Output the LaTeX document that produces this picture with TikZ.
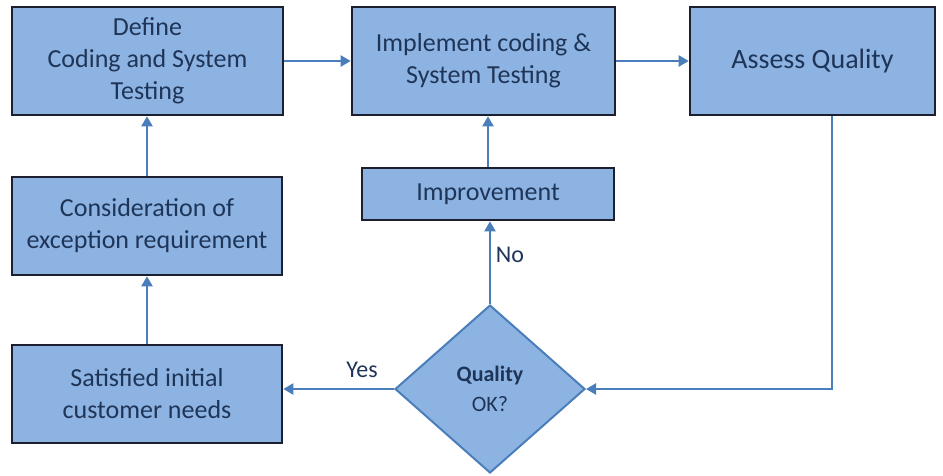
\documentclass[tikz,border=0pt]{standalone}
\usepackage{fontspec}
\setmainfont{Carlito}
\usetikzlibrary{shapes.geometric,arrows.meta}
\definecolor{boxfill}{HTML}{8DB3E2}
\definecolor{boxline}{HTML}{1B1F2E}
\definecolor{arrcol}{HTML}{4A7EBB}
\definecolor{txt}{HTML}{1F3558}
\tikzset{
  procbox/.style={draw=boxline, line width=2.6pt, fill=boxfill, text=txt, align=center, inner sep=0pt,
    font=\fontsize{26}{32}\selectfont},
  decbox/.style={diamond, draw=arrcol, line width=2pt, fill=boxfill, text=txt, align=center, inner sep=0pt,
    minimum width=190pt, minimum height=168pt, font=\fontsize{22}{30}\selectfont},
  arr/.style={draw=arrcol, line width=2.2pt, -{Triangle[width=11pt,length=10pt]}},
  lbl/.style={text=txt, font=\fontsize{24}{28}\selectfont, inner sep=0pt}
}
\begin{document}
\begin{tikzpicture}[x=1pt,y=-1pt]
\useasboundingbox (0,0) rectangle (943,475);
\node[procbox, minimum width=271pt, minimum height=108pt] (A) at (147.5,61) {Define\\Coding and System\\Testing};
\node[procbox, minimum width=263pt, minimum height=108pt] (B) at (483.5,61) {Implement coding \&\\System Testing};
\node[procbox, minimum width=245pt, minimum height=108pt, font=\fontsize{28}{34}\selectfont] (C) at (812.5,61) {Assess Quality};
\node[procbox, minimum width=270pt, minimum height=98pt] (D) at (147,226) {Consideration of\\exception requirement};
\node[procbox, minimum width=252pt, minimum height=52pt] (E) at (488,194) {Improvement};
\node[procbox, minimum width=270pt, minimum height=98pt] (F) at (147,394) {Satisfied initial\\customer needs};
\node[decbox] (Q) at (490,389) {\bfseries Quality\\OK?};
\coordinate (cx) at (832,0);
\draw[arr] (A) -- (B);
\draw[arr] (B) -- (C);
\draw[arr] (cx |- C.south) |- (Q.east);
\draw[arr] (Q.west) -- (Q.west -| F.east);
\draw[arr] (Q.north) -- (Q.north |- E.south);
\draw[arr] (E.north) -- (E.north |- B.south);
\draw[arr] (F.north) -- (F.north |- D.south);
\draw[arr] (D.north) -- (D.north |- A.south);
\node[lbl] (yes) at (362,370) {Yes};
\node[lbl] (no) at (510,255) {No};
\end{tikzpicture}
\end{document}
